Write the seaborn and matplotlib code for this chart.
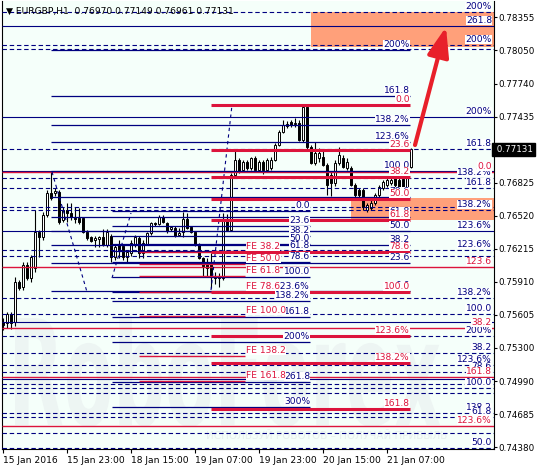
import numpy as np
import pandas as pd
import matplotlib
matplotlib.use('Agg')
import matplotlib.pyplot as plt
from matplotlib.textpath import TextPath
from matplotlib.patches import PathPatch
from matplotlib.font_manager import FontProperties
from matplotlib.transforms import Affine2D, IdentityTransform
import seaborn as sns

# EURGBP H1 свечи (бар 0 = 15 Jan 2016)
bar_open = [0.75537, 0.75528, 0.75611, 0.75537, 0.75906, 0.75860, 0.76063, 0.75943, 0.76036, 0.76368,
            0.76322, 0.76525, 0.76729, 0.76729, 0.76738, 0.76479, 0.76572, 0.76544, 0.76498, 0.76498,
            0.76498, 0.76368, 0.76322, 0.76294, 0.76304, 0.76322, 0.76248, 0.76331, 0.76137, 0.76248,
            0.76239, 0.76137, 0.76174, 0.76248, 0.76313, 0.76174, 0.76257, 0.76359, 0.76451, 0.76442,
            0.76507, 0.76451, 0.76396, 0.76405, 0.76341, 0.76368, 0.76488, 0.76415, 0.76368, 0.76257,
            0.76128, 0.76082, 0.76073, 0.75962, 0.75943, 0.75943, 0.76479, 0.76387, 0.76895, 0.77034,
            0.76941, 0.77015, 0.76960, 0.77052, 0.76941, 0.77015, 0.76941, 0.76960, 0.77034, 0.77172,
            0.77292, 0.77348, 0.77385, 0.77366, 0.77376, 0.77218, 0.77523, 0.77154, 0.77006, 0.77052,
            0.77061, 0.76987, 0.76895, 0.76821, 0.77006, 0.77052, 0.76960, 0.76960, 0.76803, 0.76756,
            0.76756, 0.76572, 0.76590, 0.76636, 0.76710, 0.76775, 0.76803, 0.76821, 0.76913, 0.76849,
            0.76858, 0.76784, 0.76970]
bar_high = [0.75574, 0.75629, 0.75629, 0.75953, 0.75925, 0.76091, 0.76091, 0.76156, 0.76572, 0.76387,
            0.76553, 0.76756, 0.76923, 0.76775, 0.76756, 0.76599, 0.76636, 0.76636, 0.76599, 0.76590,
            0.76507, 0.76387, 0.76331, 0.76331, 0.76331, 0.76396, 0.76396, 0.76350, 0.76248, 0.76294,
            0.76248, 0.76202, 0.76294, 0.76341, 0.76331, 0.76294, 0.76368, 0.76461, 0.76461, 0.76525,
            0.76525, 0.76461, 0.76424, 0.76424, 0.76405, 0.76553, 0.76544, 0.76424, 0.76378, 0.76267,
            0.76137, 0.76128, 0.76174, 0.75999, 0.75990, 0.76544, 0.76535, 0.76913, 0.77126, 0.77052,
            0.77034, 0.77034, 0.77061, 0.77071, 0.77034, 0.77034, 0.77052, 0.77061, 0.77191, 0.77311,
            0.77403, 0.77394, 0.77403, 0.77422, 0.77403, 0.77542, 0.77542, 0.77172, 0.77200, 0.77145,
            0.77126, 0.77006, 0.76923, 0.77034, 0.77154, 0.77080, 0.77052, 0.76978, 0.76821, 0.76775,
            0.76775, 0.76636, 0.76664, 0.76729, 0.76803, 0.76849, 0.76867, 0.76941, 0.76941, 0.76895,
            0.76877, 0.76987, 0.77149]
bar_low = [0.75463, 0.75481, 0.75472, 0.75500, 0.75832, 0.75832, 0.75925, 0.75906, 0.75999, 0.76137,
           0.76294, 0.76507, 0.76664, 0.76701, 0.76442, 0.76461, 0.76461, 0.76479, 0.76451, 0.76442,
           0.76359, 0.76294, 0.76276, 0.76230, 0.76230, 0.76239, 0.76230, 0.76091, 0.76110, 0.76128,
           0.76110, 0.76091, 0.76147, 0.76230, 0.76128, 0.76128, 0.76248, 0.76341, 0.76424, 0.76433,
           0.76451, 0.76359, 0.76378, 0.76322, 0.76331, 0.76322, 0.76396, 0.76359, 0.76239, 0.76119,
           0.75962, 0.75953, 0.75851, 0.75888, 0.75860, 0.75925, 0.76378, 0.76378, 0.76877, 0.76913,
           0.76923, 0.76941, 0.76941, 0.76923, 0.76923, 0.76904, 0.76923, 0.76941, 0.77024, 0.77163,
           0.77283, 0.77329, 0.77339, 0.77339, 0.77209, 0.77200, 0.77135, 0.76997, 0.76987, 0.77015,
           0.76978, 0.76710, 0.76701, 0.76793, 0.76987, 0.76960, 0.76941, 0.76793, 0.76683, 0.76692,
           0.76572, 0.76553, 0.76572, 0.76618, 0.76692, 0.76756, 0.76784, 0.76803, 0.76784, 0.76664,
           0.76692, 0.76756, 0.76961]
bar_close = [0.75509, 0.75611, 0.75528, 0.75906, 0.75851, 0.76063, 0.75943, 0.76137, 0.76368, 0.76322,
             0.76525, 0.76729, 0.76683, 0.76747, 0.76461, 0.76572, 0.76544, 0.76507, 0.76488, 0.76461,
             0.76368, 0.76313, 0.76285, 0.76313, 0.76322, 0.76248, 0.76368, 0.76137, 0.76230, 0.76202,
             0.76137, 0.76184, 0.76267, 0.76322, 0.76174, 0.76267, 0.76359, 0.76451, 0.76442, 0.76507,
             0.76461, 0.76378, 0.76415, 0.76331, 0.76359, 0.76488, 0.76405, 0.76368, 0.76248, 0.76128,
             0.76054, 0.76036, 0.75953, 0.75943, 0.75962, 0.76479, 0.76387, 0.76895, 0.77034, 0.76923,
             0.77015, 0.76960, 0.77052, 0.76941, 0.77015, 0.76941, 0.77034, 0.77034, 0.77172, 0.77292,
             0.77357, 0.77366, 0.77357, 0.77376, 0.77218, 0.77523, 0.77154, 0.77006, 0.77098, 0.77098,
             0.76987, 0.76803, 0.76821, 0.77006, 0.77080, 0.76969, 0.77015, 0.76803, 0.76710, 0.76710,
             0.76599, 0.76618, 0.76636, 0.76710, 0.76784, 0.76830, 0.76849, 0.76849, 0.76803, 0.76692,
             0.76710, 0.76941, 0.77131]

time_ticks = [0, 16, 32, 48, 64, 80, 96]
time_labels = ['15 Jan 2016', '15 Jan 23:00', '18 Jan 15:00', '19 Jan 07:00',
               '19 Jan 23:00', '20 Jan 15:00', '21 Jan 07:00']
price_ticks = [0.78355, 0.78050, 0.77740, 0.77435, 0.76825, 0.76520, 0.76215,
               0.75910, 0.75605, 0.75300, 0.74990, 0.74685, 0.74380]
last_price = 0.77131
title_text = '\u25bc EURGBP,H1  0.76970 0.77149 0.76961 0.77131'

# Фибо-уровни (цены) и подписи
retr_span = (52, 101.75)
retr_levels = [0.77542, 0.77126, 0.76877, 0.76673, 0.76479, 0.76184, 0.75814, 0.75407, 0.75158, 0.74733]
retr_labels = ['0.0', '23.6', '38.2', '50.0', '61.8', '78.6', '100.0', '123.6%', '138.2%', '161.8']

exp_a_span = (12, 101.75)
exp_a_levels = [0.75823, 0.76082, 0.76248, 0.76378, 0.76507, 0.76692, 0.76932, 0.77200, 0.77357, 0.77625, 0.78050]
exp_a_labels = ['0.0', '23.6', '38.2', '50.0', '61.8', '78.6', '100.0', '123.6%', '138.2%', '161.8', '200%']

exp_n_span = (27.25, 76.75)
exp_n_levels = [0.76562, 0.76424, 0.76331, 0.76257, 0.76193, 0.76091, 0.75953, 0.75814, 0.75731,
                0.75583, 0.75352, 0.74982, 0.74751]
exp_n_labels = ['0.0', '23.6', '38.2', '50.0', '61.8', '78.6', '100.0', '123.6%', '138.2%',
                '161.8', '200%', '261.8', '300%']

fe_span = (34, 60.5)
fe_levels = [0.76184, 0.76073, 0.75962, 0.75814, 0.75592, 0.75223, 0.74992]
fe_labels = ['FE 38.2', 'FE 50.0', 'FE 61.8', 'FE 78.6', 'FE 100.0', 'FE 138.2', 'FE 161.8']

side_span = (-0.25, 122.75)
side_dash_levels = [0.78401, 0.78096, 0.78059, 0.77135, 0.76867, 0.76775, 0.76599, 0.76572, 0.76202,
                    0.76147, 0.75759, 0.75611, 0.75407, 0.75250, 0.75139, 0.75075, 0.74964, 0.74927,
                    0.74881, 0.74696, 0.74659, 0.74511, 0.74373]
side_dash_labels = ['200%', '200%', '', '161.8', '138.2%', '161.8', '', '138.2%', '123.6%',
                    '', '138.2%', '100.0', '200%', '38.2', '123.6%', '78.6', '', '100.0',
                    '', '138.2', '61.8', '', '50.0']
side_solid_levels = [0.78272, 0.77431, 0.76932, 0.76378, 0.75537, 0.75010]
side_solid_labels = ['261.8', '200%', '', '123.6%', '', '']
side_red_levels = [0.76923, 0.76045, 0.75481, 0.75028, 0.74576]
side_red_labels = ['0.0', '123.6', '38.2', '161.8', '123.6%']

# зоны (начальный бар, низ, верх)
zone_start = [77, 87]
zone_low = [0.78078, 0.76479]
zone_high = [0.78401, 0.76683]

# пунктирные линии построения (бар, цена)
trend_x = [(12.25, 21), (27.25, 32), (52, 57.25)]
trend_y = [(0.76923, 0.75814), (0.75943, 0.76544), (0.75832, 0.77542)]

arrow_from = (103, 0.77172)
arrow_to = (110.75, 0.78263)

NAVY = '#000080'
RED = '#dc143c'
FS = 6.6

sns.set_theme(style='white', rc={'axes.facecolor': '#f5fffa', 'figure.facecolor': 'white'})
plt.rcParams['font.family'] = ['DejaVu Sans']

fig = plt.figure(figsize=(5.37, 4.68), dpi=100)
ax = fig.add_axes([2 / 537, 19 / 468, 492 / 537, 448 / 468])
ax.set_xlim(-0.25, 122.75)
ax.set_ylim(0.74363, 0.78503)

# зоны
for x0, lo, hi in zip(zone_start, zone_low, zone_high):
    ax.fill_between([x0, 122.75], lo, hi, color='#ffa07a', lw=0, zorder=1)

# водяной знак (растянутый по вертикали)
wm = TextPath((0, 0), 'RoboForex', size=100, prop=FontProperties(family='DejaVu Sans', weight='bold'))
wb = wm.get_extents()
sx = 425 / wb.width
sy = 107 / 73
wm_tr = Affine2D().translate(-wb.x0, 0).scale(sx, sy).translate(15, 468 - 425) + IdentityTransform()
ax.add_patch(PathPatch(wm, transform=wm_tr, fc='#edf5f3', ec='none', zorder=0.5))
ax.text(0.66, 0.028, 'ИСПОЛЬЗУЙ РОБОТОВ – ПОЛУЧАЙ ПРИБЫЛЬ', transform=ax.transAxes, fontsize=7.5,
        color='#e8f0ef', ha='center', va='center', zorder=0.5)

# свечи
df = pd.DataFrame({'open': bar_open, 'high': bar_high, 'low': bar_low, 'close': bar_close})
df['bar'] = np.arange(len(df))
up = df['close'] >= df['open']
ax.vlines(df['bar'], df['low'], df['high'], color='black', lw=0.8, zorder=2)
ax.bar(df['bar'], (df['close'] - df['open']).abs().clip(lower=0.00001),
       bottom=df[['open', 'close']].min(axis=1), width=0.72,
       color=np.where(up, 'white', 'black'), edgecolor='black', linewidth=0.7, zorder=2.5)

DASH = (0, (4, 2.5))


def draw_levels(levels, labels, span, color, lw, ls='-', label_x=None, ha='right', z=3):
    ax.hlines(levels, span[0], span[1], colors=color, linewidth=lw, linestyles=ls, zorder=z)
    lx = span[1] if label_x is None else label_x
    for p, t in zip(levels, labels):
        if not t:
            continue
        ax.annotate(t, (lx, p), xytext=(0, 0.6), textcoords='offset points', ha=ha, va='bottom',
                    color=color, fontsize=FS, zorder=z + 3,
                    bbox=dict(fc='white', ec='none', pad=0.2))


draw_levels(side_dash_levels, side_dash_labels, side_span, NAVY, 0.8, DASH, label_x=122.25)
draw_levels(side_solid_levels, side_solid_labels, side_span, NAVY, 0.8, label_x=122.25)
draw_levels(side_red_levels, side_red_labels, side_span, RED, 1.0, label_x=122.25)
draw_levels(exp_a_levels, exp_a_labels, exp_a_span, NAVY, 0.9, z=3.2)
draw_levels(exp_n_levels, exp_n_labels, exp_n_span, NAVY, 0.9, z=3.3)
draw_levels(fe_levels, fe_labels, fe_span, RED, 1.0, label_x=60.75, ha='left', z=3.4)
draw_levels(retr_levels, retr_labels, retr_span, RED, 2.2, z=3.6)

for xs, ys in zip(trend_x, trend_y):
    ax.plot(xs, ys, color=NAVY, lw=0.8, ls=(0, (3, 3)), zorder=3)

ax.annotate('', xy=arrow_to, xytext=arrow_from, zorder=8,
            arrowprops=dict(arrowstyle='-|>,head_length=1.5,head_width=0.55', color='#e8202a',
                            lw=3, shrinkA=0, shrinkB=0))

# оси
for side in ['left', 'bottom', 'right']:
    ax.spines[side].set_visible(True)
    ax.spines[side].set_color('black')
    ax.spines[side].set_linewidth(0.8)
ax.spines['top'].set_visible(False)
ax.yaxis.tick_right()
ax.set_yticks(price_ticks)
ax.set_yticklabels([f'{v:.5f}' for v in price_ticks])
ax.set_xticks(time_ticks)
ax.set_xticklabels(time_labels, ha='left')
ax.tick_params(axis='y', right=True, left=False, length=2.5, width=0.8, pad=1, labelsize=6.3, colors='black')
ax.tick_params(axis='x', bottom=True, length=3, width=0.8, pad=2, labelsize=FS, colors='black')
ax.grid(False)

ax.text(1.0, last_price, ' ' + f'{last_price:.5f}', transform=ax.get_yaxis_transform(),
        ha='left', va='center', color='white', fontsize=6.3, zorder=10,
        bbox=dict(fc='black', ec='black', pad=1.5), clip_on=False)

fig.text(6 / 537, 1 - 11 / 468, title_text, fontsize=FS, color='black', va='center', ha='left')

fig.savefig('out.png', dpi=100)
